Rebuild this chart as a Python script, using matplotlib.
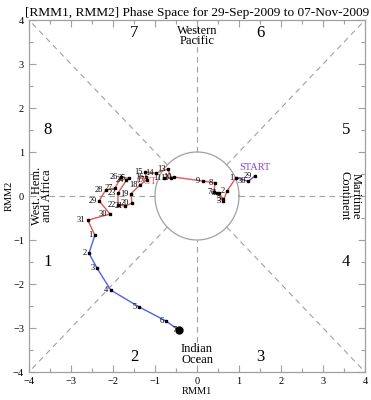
import numpy as np
import matplotlib
matplotlib.use("Agg")
import matplotlib.pyplot as plt
from matplotlib.ticker import MultipleLocator

# Sep 29-30 (purple)
sep_days = [29, 30]
sep_rmm1 = [1.37, 1.22]
sep_rmm2 = [0.45, 0.33]

# October (red)
oct_days = list(range(1, 32))
oct_rmm1 = [0.93, 0.72, 0.62, 0.52, 0.62, 0.48, 0.40, 0.43, 0.14, -0.55,
            -0.78, -0.62, -0.69, -0.98, -1.24, -1.21, -1.19, -1.36, -1.57, -1.55,
            -1.71, -1.88, -1.88, -1.68, -1.62, -1.81, -1.95, -2.17, -2.33, -2.07,
            -2.60]
oct_rmm2 = [0.42, 0.12, -0.12, 0.06, -0.06, 0.06, 0.09, 0.30, 0.34, 0.43,
            0.41, 0.42, 0.61, 0.52, 0.55, 0.43, 0.37, 0.25, 0.05, -0.16,
            -0.23, -0.20, 0.07, 0.36, 0.40, 0.43, 0.18, 0.14, -0.11, -0.41,
            -0.55]

# November (blue)
nov_days = list(range(1, 8))
nov_rmm1 = [-2.43, -2.57, -2.38, -2.05, -1.38, -0.74, -0.43]
nov_rmm2 = [-0.89, -1.30, -1.64, -2.14, -2.52, -2.84, -3.05]

phase_labels = ["1", "2", "3", "4", "5", "6", "7", "8"]
phase_pos = [(-3.55, -1.5), (-1.5, -3.66), (1.5, -3.66), (3.55, -1.5),
             (3.55, 1.5), (1.5, 3.7), (-1.5, 3.7), (-3.55, 1.5)]

plt.rcParams['font.family'] = ['Liberation Serif', 'DejaVu Serif']

fig = plt.figure(figsize=(3.71, 4.0), dpi=100)
ax = fig.add_axes([0.078, 0.07, 0.906, 0.88])
ax.set_xlim(-4, 4)
ax.set_ylim(-4, 4)

grey = '#a0a0a0'
dash = dict(color=grey, lw=0.8, ls=(0, (5, 4)))
r = 1 / np.sqrt(2)
ax.plot([-4, -1], [0, 0], **dash)
ax.plot([1, 4], [0, 0], **dash)
ax.plot([0, 0], [1, 4], **dash)
ax.plot([0, 0], [-4, -1], **dash)
for sx in (-1, 1):
    for sy in (-1, 1):
        ax.plot([sx * r, sx * 4], [sy * r, sy * 4], **dash)
th = np.linspace(0, 2 * np.pi, 300)
ax.plot(np.cos(th), np.sin(th), color=grey, lw=0.9)

# connect segments
purple = '#8844cc'
red = '#e05858'
blue = '#5060f0'
ax.plot(sep_rmm1 + [oct_rmm1[0]], sep_rmm2 + [oct_rmm2[0]], color=purple, lw=1.0)
ax.plot(oct_rmm1 + [nov_rmm1[0]], oct_rmm2 + [nov_rmm2[0]], color=red, lw=1.0)
ax.plot(nov_rmm1, nov_rmm2, color=blue, lw=1.0)

allx = sep_rmm1 + oct_rmm1 + nov_rmm1
ally = sep_rmm2 + oct_rmm2 + nov_rmm2
alld = sep_days + oct_days + nov_days
ax.plot(allx[:-1], ally[:-1], 's', color='black', ms=1.6, ls='none')
ax.plot(allx[-1], ally[-1], 'o', color='black', ms=5)
for x, y, d in zip(allx, ally, alld):
    ax.text(x - 0.06, y, str(d), fontsize=6, ha='right', va='center')

ax.text(1.38, 0.64, "START", color=purple, fontsize=7.5, ha='center', va='center')
ax.text(-1.2, 0.33, "OCT", color=red, fontsize=7.5, ha='center', va='center')

for lab, (x, y) in zip(phase_labels, phase_pos):
    ax.text(x, y, lab, fontsize=12, ha='center', va='center')

ax.text(0, 3.64, "Western\nPacific", fontsize=9, ha='center', va='center', linespacing=0.85)
ax.text(0, -3.6, "Indian\nOcean", fontsize=9, ha='center', va='center', linespacing=0.85)
ax.text(-3.69, 0, "West. Hem.\nand Africa", fontsize=9, ha='center', va='center',
        rotation=90, linespacing=0.85)
ax.text(3.64, 0, "Maritime\nContinent", fontsize=9, ha='center', va='center',
        rotation=-90, linespacing=0.85)

ax.set_title("[RMM1, RMM2] Phase Space for 29-Sep-2009 to 07-Nov-2009", fontsize=9.6, pad=3)
ax.set_xlabel("RMM1", fontsize=7.5, labelpad=1)
ax.set_ylabel("RMM2", fontsize=7.5)
ax.yaxis.set_label_coords(-0.045, 0.5)

ax.xaxis.set_major_locator(MultipleLocator(1))
ax.yaxis.set_major_locator(MultipleLocator(1))
ax.xaxis.set_minor_locator(MultipleLocator(0.5))
ax.yaxis.set_minor_locator(MultipleLocator(0.5))
ax.tick_params(which='both', direction='in', top=True, right=True, colors=grey,
               labelcolor='black', labelsize=7.5)
ax.tick_params(which='major', length=5, width=0.8)
ax.tick_params(which='minor', length=3, width=0.8)
for s in ax.spines.values():
    s.set_color(grey)
    s.set_linewidth(0.9)

fig.savefig("out.png", dpi=100)
